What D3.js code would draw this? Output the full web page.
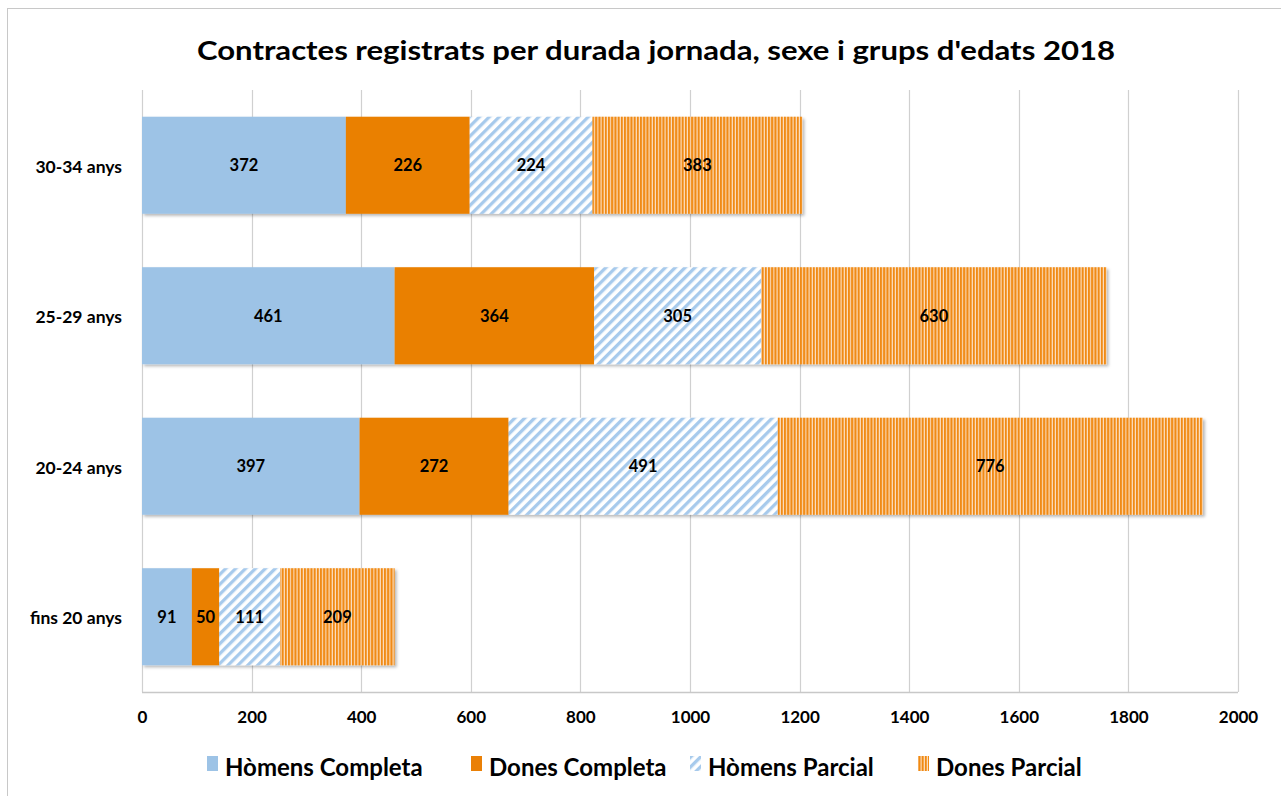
<!DOCTYPE html>
<html>
<head>
<meta charset="utf-8">
<script src="https://cdn.jsdelivr.net/npm/d3@7"></script>
<style>
  html, body { margin: 0; padding: 0; background: #fff; }
  svg { display: block; }
  text { font-family: Lato, "Open Sans", sans-serif; font-weight: bold; fill: #000; }
</style>
</head>
<body>
<svg id="chart" width="1281" height="796"></svg>
<script>
const categories = ["30-34 anys", "25-29 anys", "20-24 anys", "fins 20 anys"];
const seriesNames = ["Hòmens Completa", "Dones Completa", "Hòmens Parcial", "Dones Parcial"];
const homensCompleta = [372, 461, 397, 91];
const donesCompleta  = [226, 364, 272, 50];
const homensParcial  = [224, 305, 491, 111];
const donesParcial   = [383, 630, 776, 209];
const xTicks = [0, 200, 400, 600, 800, 1000, 1200, 1400, 1600, 1800, 2000];
const title = "Contractes registrats per durada jornada, sexe i grups d'edats 2018";

const seriesValues = [homensCompleta, donesCompleta, homensParcial, donesParcial];
const fills = ["#9DC3E6", "#EA8006", "url(#diag)", "url(#vert)"];

const svg = d3.select("#chart");
const defs = svg.append("defs");

const pd = defs.append("pattern").attr("id", "diag").attr("patternUnits", "userSpaceOnUse")
  .attr("width", 7).attr("height", 7).attr("patternTransform", "rotate(45)");
pd.append("rect").attr("width", 7).attr("height", 7).attr("fill", "#fff");
pd.append("rect").attr("x", 0).attr("width", 3.3).attr("height", 7).attr("fill", "#A7CAEC");

const pv = defs.append("pattern").attr("id", "vert").attr("patternUnits", "userSpaceOnUse")
  .attr("width", 3.2).attr("height", 10);
pv.append("rect").attr("width", 3.2).attr("height", 10).attr("fill", "#FCE3CC");
pv.append("rect").attr("width", 2.1).attr("height", 10).attr("fill", "#F08A12");

const f = defs.append("filter").attr("id", "shadow").attr("x", "-5%").attr("y", "-10%").attr("width", "115%").attr("height", "130%");
f.append("feDropShadow").attr("dx", 2).attr("dy", 2).attr("stdDeviation", 1.6)
  .attr("flood-color", "#000").attr("flood-opacity", 0.28);

svg.append("rect").attr("x", 7.5).attr("y", 8.5).attr("width", 1300).attr("height", 820)
  .attr("fill", "none").attr("stroke", "#c8c8c8").attr("stroke-width", 1);

svg.append("text").attr("x", 656).attr("y", 60).attr("text-anchor", "middle")
  .attr("font-size", 27).attr("textLength", 918).attr("lengthAdjust", "spacingAndGlyphs").text(title);

const x = d3.scaleLinear().domain([0, 2000]).range([142, 1238]);
const y = d3.scaleBand().domain(categories).range([90, 692]).paddingInner(0.355).paddingOuter(0.1775);

svg.append("g").selectAll("line").data(xTicks).join("line")
  .attr("x1", d => Math.round(x(d)) + 0.5).attr("x2", d => Math.round(x(d)) + 0.5)
  .attr("y1", 90).attr("y2", 692)
  .attr("stroke", "#d0d0d0").attr("stroke-width", 1.2);
svg.append("line").attr("x1", x(0)).attr("x2", x(2000)).attr("y1", 692.5).attr("y2", 692.5)
  .attr("stroke", "#c8c8c8").attr("stroke-width", 1.4);

const xAxis = d3.axisBottom(x).tickValues(xTicks).tickSize(0).tickPadding(0).tickFormat(d3.format("d"));
const gx = svg.append("g").attr("transform", "translate(0,711)").call(xAxis);
gx.select(".domain").remove();
gx.selectAll("text").attr("font-size", 17).attr("font-family", "Lato, sans-serif").attr("font-weight", "bold").attr("fill", "#000");

const yAxis = d3.axisLeft(y).tickSize(0).tickPadding(0);
const gy = svg.append("g").attr("transform", "translate(122,2)").call(yAxis);
gy.select(".domain").remove();
gy.selectAll("text").attr("font-size", 17.5).attr("font-family", "Lato, sans-serif").attr("font-weight", "bold").attr("fill", "#000");

const rows = categories.map((c, i) => {
  const o = { cat: c };
  seriesNames.forEach((s, j) => o[s] = seriesValues[j][i]);
  return o;
});
const stack = d3.stack().keys(seriesNames)(rows);

const barsG = svg.append("g").attr("filter", "url(#shadow)");
stack.forEach((layer, j) => {
  barsG.append("g").selectAll("rect").data(layer).join("rect")
    .attr("x", d => x(d[0])).attr("width", d => x(d[1]) - x(d[0]))
    .attr("y", d => y(d.data.cat)).attr("height", y.bandwidth())
    .attr("fill", fills[j]);
});

stack.forEach((layer, j) => {
  svg.append("g").selectAll("text").data(layer).join("text")
    .attr("x", d => (x(d[0]) + x(d[1])) / 2)
    .attr("y", d => y(d.data.cat) + y.bandwidth() / 2 + 6)
    .attr("text-anchor", "middle").attr("font-size", 16.5)
    .text(d => d[1] - d[0]);
});

const legendX = [207, 471, 690, 918];
const legendSw = ["#9DC3E6", "#EA8006", "url(#diag)", "url(#vert)"];
const lg = svg.append("g");
seriesNames.forEach((s, j) => {
  lg.append("rect").attr("x", legendX[j]).attr("y", 756).attr("width", 11).attr("height", 15).attr("fill", legendSw[j]);
  lg.append("text").attr("x", legendX[j] + 18).attr("y", 776).attr("font-size", 24).text(s);
});
</script>
</body>
</html>
